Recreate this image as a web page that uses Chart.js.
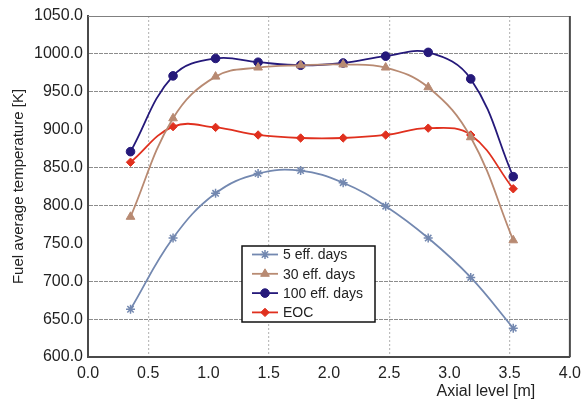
<!DOCTYPE html>
<html>
<head>
<meta charset="utf-8">
<script src="https://cdn.jsdelivr.net/npm/chart.js@4.4.1/dist/chart.umd.min.js"></script>
<style>
    html, body { margin: 0; padding: 0; background: #ffffff; }
    #wrap { position: relative; width: 588px; height: 406px; }
</style>
</head>
<body>
<div id="wrap"><canvas id="chart" width="588" height="406"></canvas></div>
<script>
// Niveles axiales [m]
const axialLevels = [0.353, 0.706, 1.059, 1.412, 1.765, 2.118, 2.471, 2.824, 3.177, 3.530];

// Temperatura media del combustible [K] por instante
const temp5Days = [663, 757, 816, 842, 846, 830, 799, 757, 705, 638];
const temp30Days = [785, 915, 970, 982, 985, 986, 982, 956, 890, 754];
const temp100Days = [871, 971, 994, 989, 985, 988, 997, 1002, 967, 838];
const tempEOC = [857, 904, 903, 893, 889, 889, 893, 902, 893, 822];

const seriesLabels = ['5 eff. days', '30 eff. days', '100 eff. days', 'EOC'];

// Líneas de rejilla que se dibujan (las demás se omiten)
const xGridValues = [0.5, 1.5, 2.5, 3.5];
const yGridValues = [650, 700, 800, 850, 950, 1000];

const FONT = "'Liberation Sans', Arial, Helvetica, sans-serif";
const TEXT = '#222222';

const toPoints = (values) => values.map((v, i) => ({ x: axialLevels[i], y: v }));

const datasets = [
    {
        label: seriesLabels[0],
        data: toPoints(temp5Days),
        borderColor: '#7388b0',
        backgroundColor: '#7388b0',
        pointStyle: 'star',
        pointRadius: 4.5,
        pointBorderWidth: 1.5
    },
    {
        label: seriesLabels[1],
        data: toPoints(temp30Days),
        borderColor: '#b88a72',
        backgroundColor: '#b88a72',
        pointStyle: 'triangle',
        pointRadius: 5,
        pointBorderWidth: 1
    },
    {
        label: seriesLabels[2],
        data: toPoints(temp100Days),
        borderColor: '#25197a',
        backgroundColor: '#25197a',
        pointStyle: 'circle',
        pointRadius: 4.3,
        pointBorderWidth: 1
    },
    {
        label: seriesLabels[3],
        data: toPoints(tempEOC),
        borderColor: '#e0301e',
        backgroundColor: '#e0301e',
        pointStyle: 'rectRot',
        pointRadius: 4.2,
        pointBorderWidth: 1
    }
].map(ds => ({ ...ds, borderWidth: 1.8, tension: 0.4, fill: false }));

// Marco superior/derecho, leyenda interna y título del eje X
const framePlugin = {
    id: 'frame',
    afterDraw(chart) {
        const { ctx, chartArea: a } = chart;
        ctx.save();
        ctx.strokeStyle = '#808080';
        ctx.lineWidth = 1;
        ctx.beginPath();
        ctx.moveTo(a.left, a.top + 0.5);
        ctx.lineTo(a.right, a.top + 0.5);
        ctx.stroke();
        ctx.strokeStyle = '#4a4a4a';
        ctx.lineWidth = 2;
        ctx.beginPath();
        ctx.moveTo(a.right, a.top);
        ctx.lineTo(a.right, a.bottom);
        ctx.stroke();

        // Leyenda
        const bx = a.left + 154, by = a.top + 230, bw = 133, bh = 76;
        ctx.fillStyle = '#ffffff';
        ctx.fillRect(bx, by, bw, bh);
        ctx.strokeStyle = '#111111';
        ctx.lineWidth = 1.5;
        ctx.strokeRect(bx, by, bw, bh);
        ctx.font = '14px ' + FONT;
        ctx.textBaseline = 'middle';
        ctx.textAlign = 'left';
        chart.data.datasets.forEach((ds, i) => {
            const y = by + 8.5 + i * 19.3;
            ctx.strokeStyle = ds.borderColor;
            ctx.lineWidth = 1.8;
            ctx.beginPath();
            ctx.moveTo(bx + 10, y);
            ctx.lineTo(bx + 36, y);
            ctx.stroke();
            ctx.fillStyle = ds.backgroundColor;
            ctx.strokeStyle = ds.borderColor;
            ctx.lineWidth = ds.pointBorderWidth;
            Chart.helpers.drawPoint(ctx, {
                pointStyle: ds.pointStyle,
                radius: ds.pointRadius,
                rotation: 0,
                borderWidth: ds.pointBorderWidth
            }, bx + 23, y);
            ctx.fillStyle = TEXT;
            ctx.fillText(ds.label, bx + 41, y + 1);
        });

        // Título del eje X
        ctx.font = '16px ' + FONT;
        ctx.fillStyle = TEXT;
        ctx.textAlign = 'center';
        ctx.fillText('Axial level [m]', a.right - 84, a.bottom + 35);
        ctx.restore();
    }
};

new Chart(document.getElementById('chart'), {
    type: 'line',
    data: { datasets },
    plugins: [framePlugin],
    options: {
        responsive: false,
        animation: false,
        layout: { padding: { top: 16, right: 13, left: 0, bottom: 0 } },
        plugins: {
            legend: { display: false },
            tooltip: { enabled: false }
        },
        scales: {
            x: {
                type: 'linear',
                min: 0,
                max: 4,
                afterFit: (scale) => { scale.height = 49; },
                border: { color: '#4a4a4a', width: 2, dash: [2, 2] },
                grid: {
                    drawTicks: false,
                    color: (c) => xGridValues.includes(c.tick.value) ? '#bdbdbd' : 'rgba(0,0,0,0)',
                    lineWidth: 1.2
                },
                ticks: {
                    stepSize: 0.5,
                    padding: 7,
                    color: TEXT,
                    maxRotation: 0,
                    font: { family: FONT, size: 16 },
                    callback: (v) => Number(v).toFixed(1)
                }
            },
            y: {
                min: 600,
                max: 1050,
                afterFit: (scale) => { scale.width = 88; },
                border: { color: '#4a4a4a', width: 2, dash: [4, 1] },
                grid: {
                    drawTicks: false,
                    color: (c) => yGridValues.includes(c.tick.value) ? '#8c8c8c' : 'rgba(0,0,0,0)',
                    lineWidth: 1
                },
                ticks: {
                    stepSize: 50,
                    padding: 5,
                    color: TEXT,
                    font: { family: FONT, size: 16 },
                    callback: (v) => Number(v).toFixed(1)
                },
                title: {
                    display: true,
                    text: 'Fuel average temperature [K]',
                    color: TEXT,
                    font: { family: FONT, size: 15 },
                    padding: { top: 10, bottom: 0 }
                }
            }
        }
    }
});
</script>
</body>
</html>
